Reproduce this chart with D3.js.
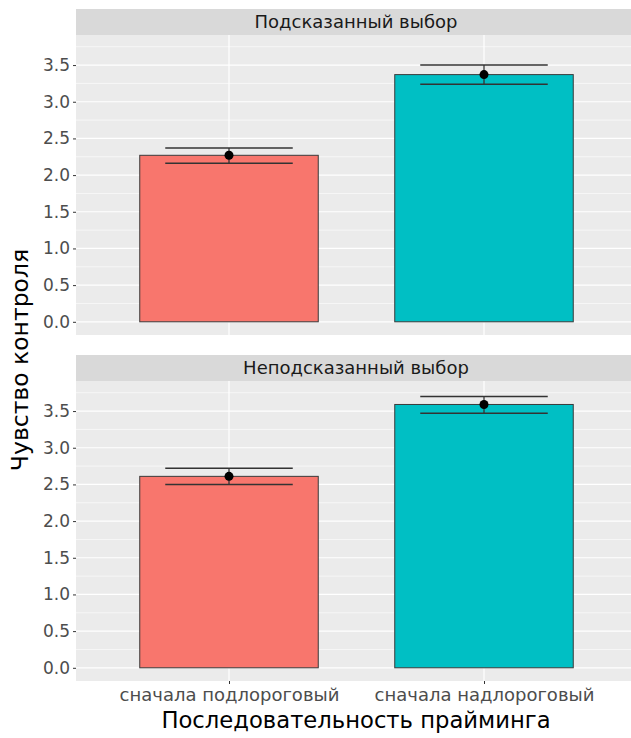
<!DOCTYPE html>
<html><head><meta charset="utf-8">
<script src="https://cdn.jsdelivr.net/npm/d3@7"></script>
<style>body{margin:0;background:#fff}svg{display:block}</style>
</head><body>
<script>
const categories = ["сначала подлороговый", "сначала надлороговый"];
const facets = ["Подсказанный выбор", "Неподсказанный выбор"];
const meanPrompted = [2.27, 3.37];
const lowerPrompted = [2.16, 3.24];
const upperPrompted = [2.37, 3.50];
const meanUnprompted = [2.61, 3.59];
const lowerUnprompted = [2.50, 3.47];
const upperUnprompted = [2.72, 3.70];
const yTicks = [0, 0.5, 1, 1.5, 2, 2.5, 3, 3.5];
const yTitle = "Чувство контроля";
const xTitle = "Последовательность прайминга";
const colors = ["#F8766D", "#00BFC4"];

const W = 631, H = 738;
const font = "'DejaVu Sans', sans-serif";
const svg = d3.select("body").append("svg").attr("width", W).attr("height", H);

const left = 76, right = 637;
const x = d3.scalePoint().domain(categories).range([left, right]).padding(0.6);
const step = x.step();

const panels = [
  {title: facets[0], mean: meanPrompted, lo: lowerPrompted, hi: upperPrompted, stripTop: 9, top: 35, bottom: 335},
  {title: facets[1], mean: meanUnprompted, lo: lowerUnprompted, hi: upperUnprompted, stripTop: 355, top: 381, bottom: 681}
];

panels.forEach((p, pi) => {
  const y = d3.scaleLinear().domain([-0.18, 3.91]).range([p.bottom, p.top]);
  const g = svg.append("g");
  g.append("rect").attr("x", left).attr("y", p.stripTop).attr("width", right-left).attr("height", p.top - p.stripTop).attr("fill", "#D9D9D9");
  g.append("text").attr("x", 356).attr("y", (p.stripTop + p.top)/2).attr("dy", "0.35em")
    .attr("text-anchor","middle").attr("font-family", font).attr("font-size", 18).attr("fill", "#1A1A1A").text(p.title);
  g.append("rect").attr("x", left).attr("y", p.top).attr("width", right-left).attr("height", p.bottom - p.top).attr("fill", "#EBEBEB");
  const minor = d3.range(-0.25, 4.0, 0.5).filter(v => y(v) > p.top && y(v) < p.bottom);
  g.selectAll(".mn").data(minor).join("line").attr("x1", left).attr("x2", right)
    .attr("y1", d => y(d)).attr("y2", d => y(d)).attr("stroke", "#fff").attr("stroke-width", 0.6);
  g.selectAll(".mj").data(yTicks).join("line").attr("x1", left).attr("x2", right)
    .attr("y1", d => y(d)).attr("y2", d => y(d)).attr("stroke", "#fff").attr("stroke-width", 1.2);
  g.selectAll(".vg").data(categories).join("line").attr("x1", d => x(d)).attr("x2", d => x(d))
    .attr("y1", p.top).attr("y2", p.bottom).attr("stroke", "#fff").attr("stroke-width", 1.2);
  const ax = d3.axisLeft(y).tickValues(yTicks).tickFormat(d3.format(".1f")).tickSize(3).tickPadding(3);
  const ag = svg.append("g").attr("transform", `translate(${left},0)`).call(ax);
  ag.select(".domain").remove();
  ag.selectAll("line").attr("stroke", "#333");
  ag.selectAll("text").attr("font-family", font).attr("font-size", 17).attr("fill", "#4D4D4D");
  const bw = step * 0.7;
  g.selectAll(".bar").data(categories).join("rect")
    .attr("x", d => x(d) - bw/2).attr("width", bw)
    .attr("y", (d,i) => y(p.mean[i])).attr("height", (d,i) => y(0) - y(p.mean[i]))
    .attr("fill", (d,i) => colors[i]).attr("stroke", "#3a3a3a").attr("stroke-width", 1);
  const ew = step * 0.5;
  categories.forEach((c, i) => {
    const cx = x(c);
    g.append("line").attr("x1", cx).attr("x2", cx).attr("y1", y(p.lo[i])).attr("y2", y(p.hi[i])).attr("stroke", "#333").attr("stroke-width", 1.3);
    [p.lo[i], p.hi[i]].forEach(v => {
      g.append("line").attr("x1", cx - ew/2).attr("x2", cx + ew/2).attr("y1", y(v)).attr("y2", y(v))
        .attr("stroke", "#333").attr("stroke-width", 1.5);
    });
    g.append("circle").attr("cx", cx).attr("cy", y(p.mean[i])).attr("r", 4.5).attr("fill", "#000");
  });
  if (pi === 1) {
    const xa = d3.axisBottom(x).tickSize(3).tickPadding(4);
    const xg = svg.append("g").attr("transform", `translate(0,${p.bottom})`).call(xa);
    xg.select(".domain").remove();
    xg.selectAll("line").attr("stroke", "#333");
    xg.selectAll("text").attr("font-family", font).attr("font-size", 18).attr("fill", "#4D4D4D");
  }
});

svg.append("text").attr("transform", `translate(20,360) rotate(-90)`).attr("dy","0.35em")
  .attr("text-anchor","middle").attr("font-family", font).attr("font-size", 23.5).attr("fill", "#000").text(yTitle);
svg.append("text").attr("x", 356).attr("y", 720).attr("dy","0.35em")
  .attr("text-anchor","middle").attr("font-family", font).attr("font-size", 22.7).attr("fill", "#000").text(xTitle);
</script>
</body></html>
